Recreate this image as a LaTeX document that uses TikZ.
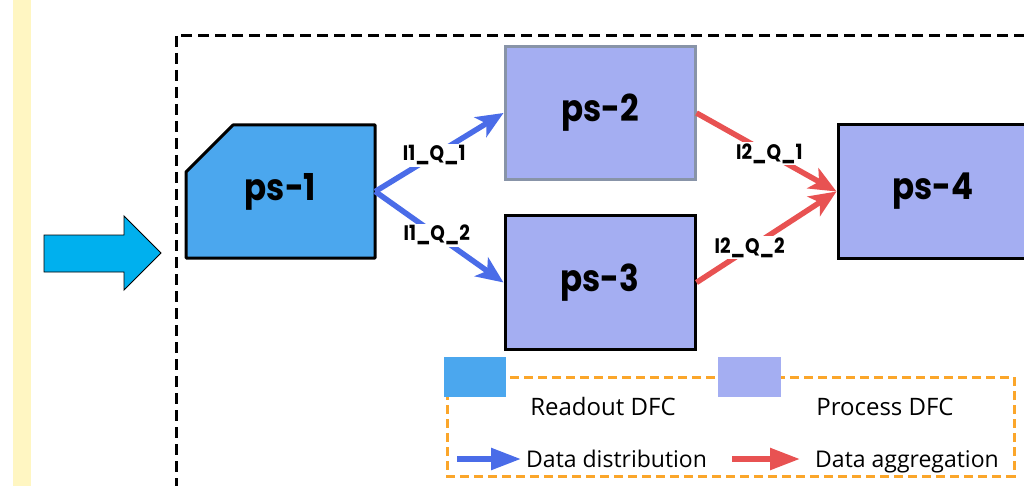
\documentclass[tikz,border=0pt]{standalone}
\usepackage{fontspec}
\setmainfont{Poppins}
\newfontfamily\boxfont{Poppins}[FakeStretch=0.88]
\newfontfamily\legendfont{Open Sans}
\usetikzlibrary{arrows.meta,calc}
\definecolor{distblue}{HTML}{4A6CE8}
\definecolor{aggred}{HTML}{E85252}
\definecolor{readfill}{HTML}{4BA7EE}
\definecolor{procfill}{HTML}{A4AEF2}
\definecolor{inarrow}{HTML}{00B0EE}
\definecolor{stripyellow}{HTML}{FFF6C2}
\definecolor{legorange}{HTML}{FBA62A}
\definecolor{graybd}{HTML}{8894A8}
\tikzset{
  boxtext/.style={font=\boxfont\fontsize{37}{40}\selectfont\bfseries},
  pbox/.style={draw=black, line width=3pt, fill=procfill, minimum width=190pt, minimum height=133pt, inner sep=0pt, boxtext},
  qlabel/.style={fill=white, inner sep=1.5pt, font=\boxfont\fontsize{21}{24}\selectfont\bfseries},
  distarrow/.style={draw=distblue, line width=5.5pt, -{Stealth[length=27pt,width=23pt,inset=7pt]}},
  aggarrow/.style={draw=aggred, line width=5.5pt, -{Stealth[length=27pt,width=23pt,inset=7pt]}},
  legarrow/.style={line width=5.5pt, -{Triangle[length=30pt,width=21pt]}},
  legtext/.style={font=\legendfont\fontsize{24}{28}\selectfont, inner sep=0pt, anchor=base},
}
\begin{document}
\begin{tikzpicture}[x=1pt,y=-1pt]
\useasboundingbox (0,0) rectangle (1024,486);
\clip (0,0) rectangle (1024,486);
% yellow strip
\fill[stripyellow] (13,0) rectangle (31,486);
% input arrow
\draw[fill=inarrow, draw=black, line width=0.9pt] (44,235) -- (124,235) -- (124,216) -- (161,253) -- (124,290) -- (124,272) -- (44,272) -- cycle;
% outer dashed frame
\draw[black, line width=3pt, dash pattern=on 11pt off 6pt] (176,36) rectangle (1060,520);
% ps-1 shape
\draw[fill=readfill, draw=black, line width=3pt, line join=round] (186,172) -- (233,125) -- (375,125) -- (375,258) -- (186,258) -- cycle;
\node[minimum width=189pt, minimum height=133pt, inner sep=0pt, boxtext] (p1) at (280.5,191.5) {ps-1};
% process boxes
\node[pbox, draw=graybd] (p2) at (600,113) {ps-2};
\node[pbox] (p3) at (600,282.5) {ps-3};
\node[pbox] (p4) at (933,191.5) {ps-4};
% distribution arrows
\draw[distarrow] (p1.east) -- node[qlabel, pos=0.46] (q11) {I1\_Q\_1} (p2.west);
\draw[distarrow] (p1.east) -- node[qlabel, pos=0.48] (q12) {I1\_Q\_2} (p3.west);
% aggregation arrows
\draw[aggarrow] (p2.east) -- node[qlabel, pos=0.52] (q21) {I2\_Q\_1} (p4.west);
\draw[aggarrow] (p3.east) -- node[qlabel, pos=0.38] (q22) {I2\_Q\_2} (p4.west);
% legend
\draw[legorange, line width=3pt, dash pattern=on 9pt off 5pt] (447,377) rectangle (1014,476);
\node[fill=readfill, minimum width=62pt, minimum height=40pt, inner sep=0pt] (lr) at (475,377) {};
\node[fill=procfill, minimum width=63pt, minimum height=40pt, inner sep=0pt] (lp) at (749.5,377) {};
\node[legtext] (tr) at (603,415) {Readout DFC};
\node[legtext] (tp) at (885,415) {Process DFC};
\coordinate (la1) at (457,459);
\coordinate (la2) at (521,459);
\coordinate (lb1) at (732,459);
\coordinate (lb2) at (800,459);
\draw[legarrow, draw=distblue, fill=distblue] (la1) -- (la2);
\draw[legarrow, draw=aggred, fill=aggred] (lb1) -- (lb2);
\node[legtext, anchor=base west, font=\legendfont\fontsize{23}{27}\selectfont] (td) at (526,467) {Data distribution};
\node[legtext, anchor=base west, font=\legendfont\fontsize{23}{27}\selectfont] (ta) at (815,467) {Data aggregation};
\end{tikzpicture}
\end{document}
